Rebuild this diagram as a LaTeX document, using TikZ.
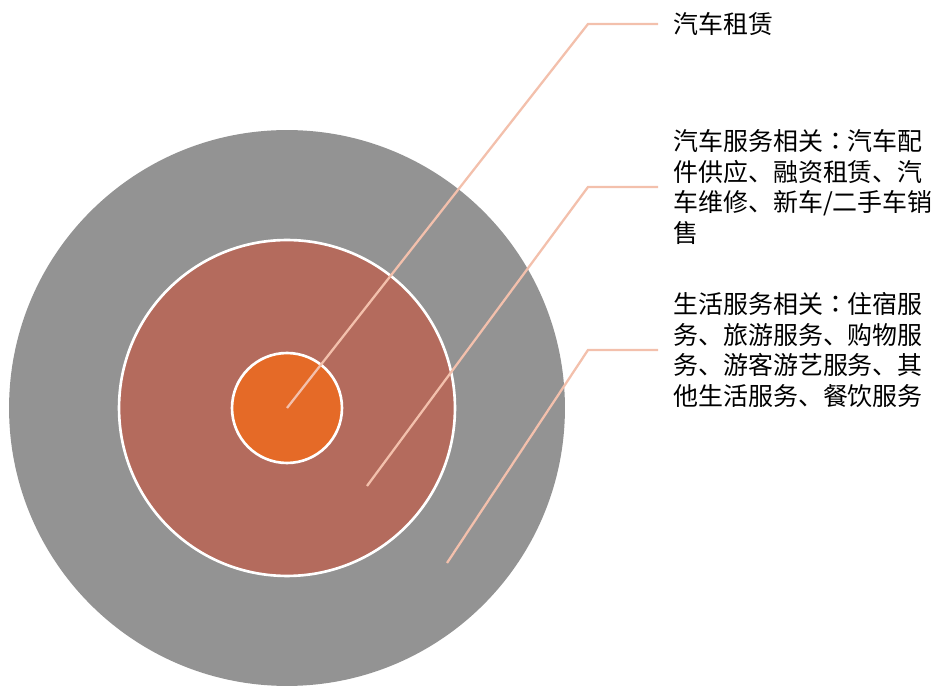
\documentclass[tikz,border=0pt]{standalone}
\usepackage{fontspec}
\newfontfamily\cjk{Noto Sans CJK SC}
\newfontfamily\cjktc{Noto Sans CJK TC}
\usepackage{tikz}
\usetikzlibrary{positioning}
\usetikzlibrary{calc}
\definecolor{ringgray}{RGB}{147,147,147}
\definecolor{ringbrown}{RGB}{180,107,93}
\definecolor{ringorange}{RGB}{229,106,39}
\definecolor{leadersalmon}{RGB}{243,192,172}
\newcommand{\midcolon}{{\cjktc ：}}

\begin{document}
\begin{tikzpicture}[
x=0.02cm, y=-0.02cm,
ringnode/.style={
    circle,
    draw=white,
    line width=1.5pt,
    inner sep=0pt, % No inner spacing
    outer sep=0pt, % No outer spacing
},
leaderline/.style={
    draw=leadersalmon,
    line width=1.3pt,
},
textnode/.style={
    anchor=west,
    align=left,
    inner sep=0pt,
    text=black,
    font=\cjk\fontsize{14.2}{17.4}\selectfont,
},
]
\useasboundingbox (0,0) rectangle (950,688);

\node[ringnode, draw=none, fill=ringgray, minimum size=11.12cm] (outer) at (287,408) {};
\node[ringnode, fill=ringbrown, minimum size=6.72cm] (middle) at (outer.center) {};
\node[ringnode, fill=ringorange, minimum size=2.2cm] (core) at (outer.center) {};

\coordinate (m2) at (367,486);
\coordinate (m3) at (447,563);

\coordinate (e1) at (588,24);
\coordinate (e2) at (588,187);
\coordinate (e3) at (588,350);
\coordinate (h1) at (658,24);
\coordinate (h2) at (658,187);
\coordinate (h3) at (658,350);

\node[textnode, right=0.3cm of h1] (T1) {汽车租赁};
\node[textnode, right=0.3cm of h2] (T2) {汽车服务相关\midcolon 汽车配\\件供应、融资租赁、汽\\车维修、新车/二手车销\\售};
\node[textnode, right=0.3cm of h3] (T3) {生活服务相关\midcolon 住宿服\\务、旅游服务、购物服\\务、游客游艺服务、其\\他生活服务、餐饮服务};

\draw[leaderline] (core.center) -- (e1) -- (h1);
\draw[leaderline] (m2) -- (e2) -- (h2);
\draw[leaderline] (m3) -- (e3) -- (h3);

\end{tikzpicture}
\end{document}
